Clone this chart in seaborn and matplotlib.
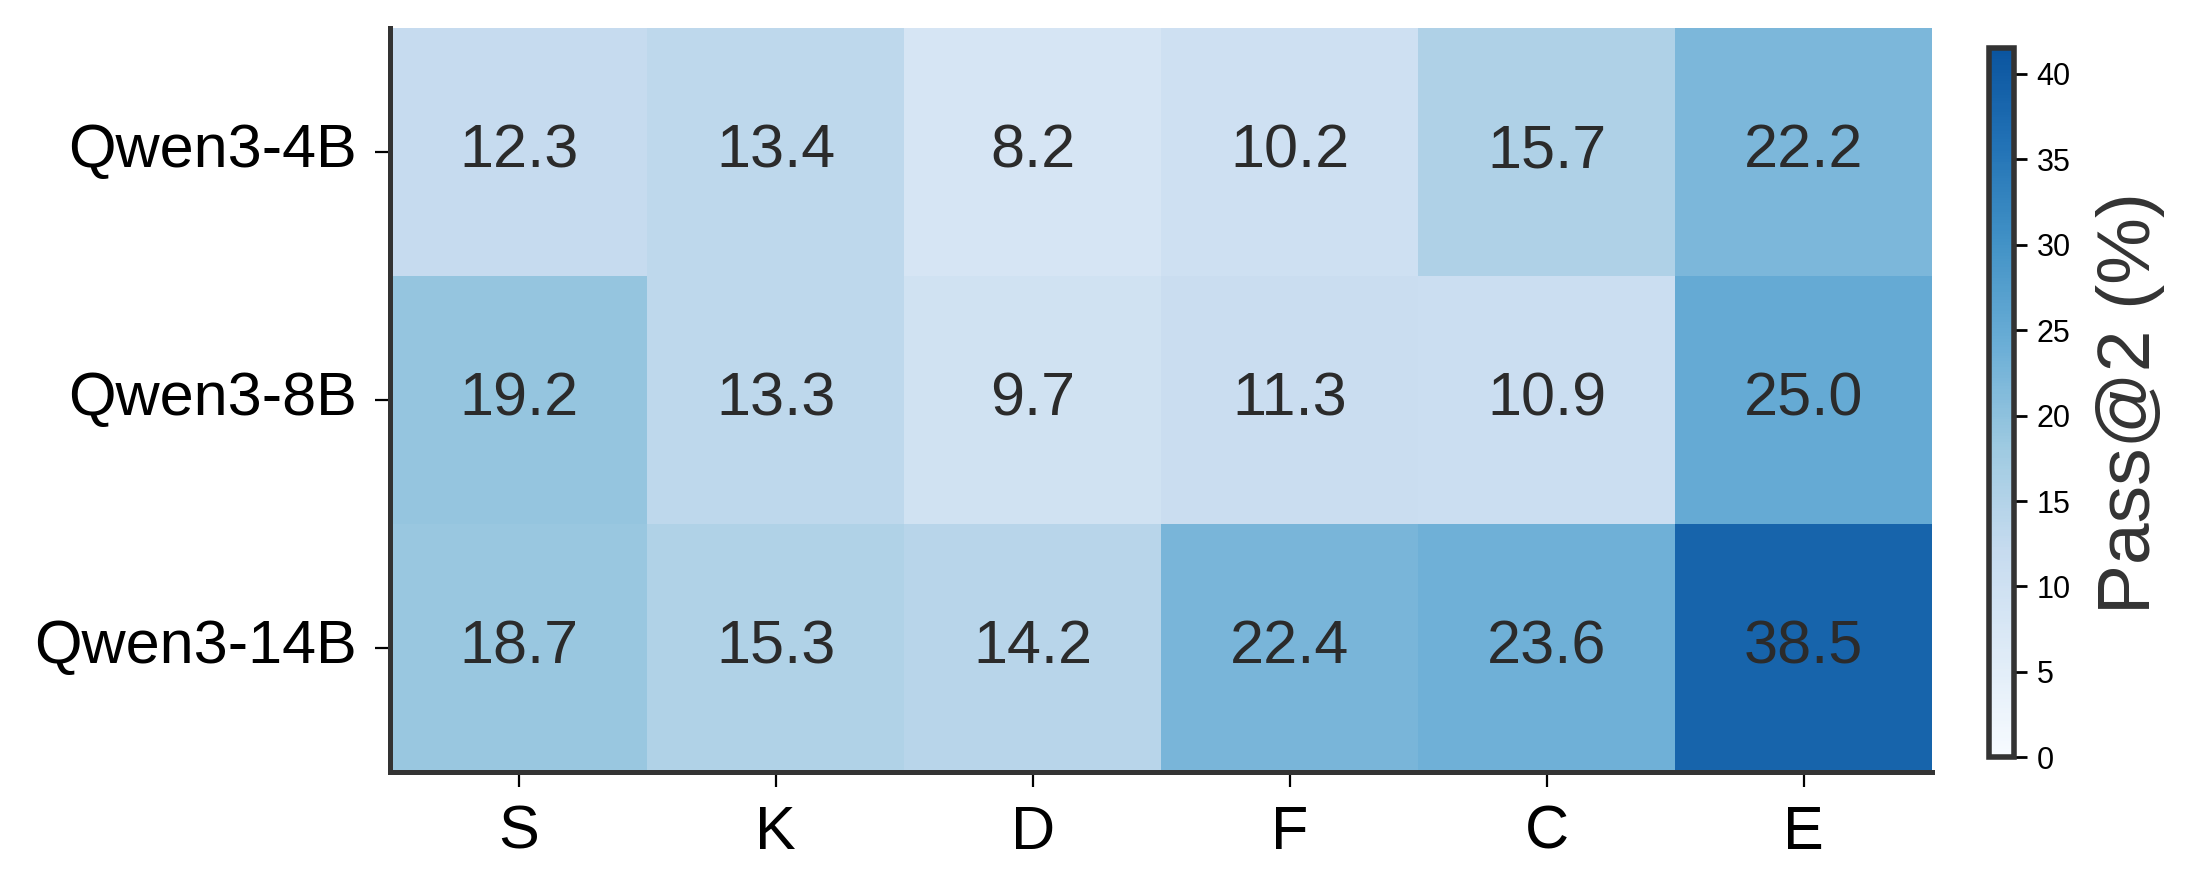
import matplotlib
matplotlib.use("Agg")
import matplotlib.pyplot as plt
import seaborn as sns
import pandas as pd
import numpy as np
from matplotlib.colors import LinearSegmentedColormap

# Pass@2 per model and category
models = ["Qwen3-4B", "Qwen3-8B", "Qwen3-14B"]
categories = ["S", "K", "D", "F", "C", "E"]
qwen3_4b = [12.3, 13.4, 8.2, 10.2, 15.7, 22.2]
qwen3_8b = [19.2, 13.3, 9.7, 11.3, 10.9, 25.0]
qwen3_14b = [18.7, 15.3, 14.2, 22.4, 23.6, 38.5]
cbar_ticks = [0, 5, 10, 15, 20, 25, 30, 35, 40]

df = pd.DataFrame([qwen3_4b, qwen3_8b, qwen3_14b], index=models, columns=categories)

sns.set_style("ticks")
plt.rcParams["font.family"] = ["Liberation Sans", "DejaVu Sans"]

# Blues, cut before the darkest navy end
blues_cut = LinearSegmentedColormap.from_list(
    "blues_cut", plt.cm.Blues(np.linspace(0.0, 0.86, 256)))

fig = plt.figure(figsize=(10.965, 4.45), dpi=200)
ax = fig.add_axes([0.178, 0.133, 0.703, 0.836])
cax = fig.add_axes([0.907, 0.149, 0.0115, 0.797])

sns.heatmap(df, ax=ax, cbar_ax=cax, cmap=blues_cut, vmin=0, vmax=41.5,
            annot=True, fmt=".1f",
            annot_kws={"fontsize": 22, "color": "#2b2b2b"})

# spines like the original: left + bottom only
for side in ["left", "bottom"]:
    ax.spines[side].set_visible(True)
    ax.spines[side].set_linewidth(1.8)
    ax.spines[side].set_color("#333333")
ax.tick_params(axis="both", length=5.5, width=0.8, pad=6.5, color="black",
               labelsize=22, labelcolor="black")
ax.set_yticklabels(models, rotation=0)
ax.set_xticklabels(categories, rotation=0)
ax.set_xlabel("")
ax.set_ylabel("")

cbar = ax.collections[0].colorbar
cbar.set_ticks(cbar_ticks)
cbar.ax.tick_params(labelsize=11, length=4.5, width=1, color="black",
                    labelcolor="black")
cbar.outline.set_visible(True)
cbar.outline.set_linewidth(2)
cbar.outline.set_edgecolor("#333333")
cbar.set_label("Pass@2 (%)", fontsize=27, color="#333333", labelpad=9)

plt.savefig("out.png", dpi=200)
